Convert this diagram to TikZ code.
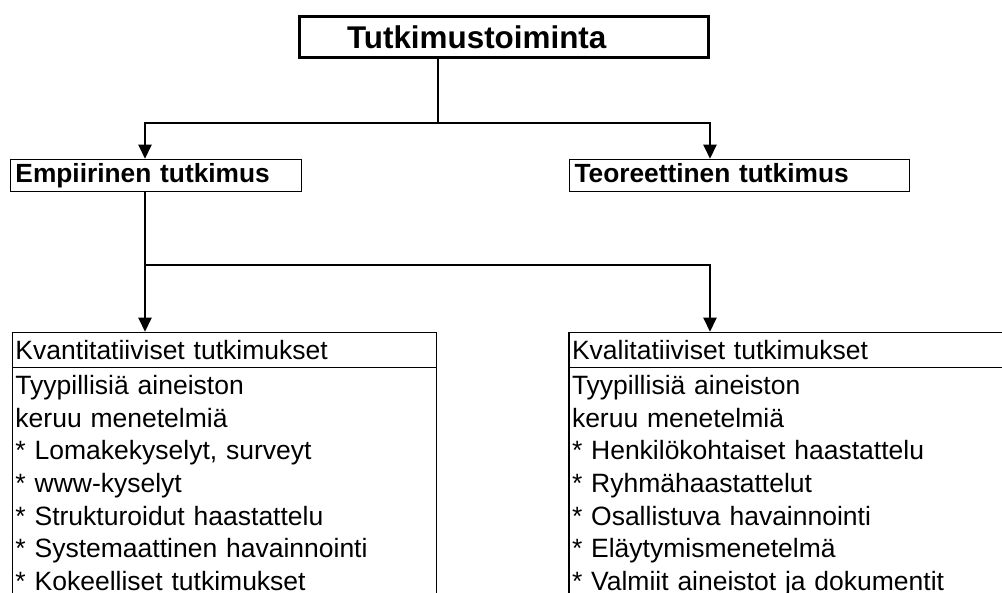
\documentclass[tikz,border=0pt]{standalone}
\usepackage{fontspec}
\setmainfont{Liberation Sans}
\usetikzlibrary{positioning, arrows.meta, shapes.multipart}

\begin{document}
\begin{tikzpicture}[x=1pt, y=-1pt, line width=2pt,
    >={Triangle[width=13pt,length=14pt]},
    otsikko/.style={draw, line width=1.5pt, align=left, inner xsep=5pt, inner ysep=0pt,
      minimum height=32pt, text height=19pt, text depth=5.5pt,
      font=\bfseries\fontsize{26.3}{32}\selectfont},
    lista/.style={draw, line width=1.5pt, rectangle split, rectangle split parts=2,
      anchor=north west, align=left, inner xsep=3pt, inner ysep=7pt,
      font=\fontsize{26.5}{32.7}\selectfont}]
    \fill [white] (0,0) rectangle (1002,593);
    \useasboundingbox (0,0) rectangle (1002,593);
    \clip (0,0) rectangle (1002,593);

    \node [draw, line width=3pt, align=left, inner xsep=47.5pt, inner ysep=0pt,
      text width=314pt, minimum height=41pt,
      font=\bfseries\fontsize{31.4}{36}\selectfont] (toiminta) at (504,37) {Tutkimustoiminta};
    \node [otsikko, text width=281pt] (empiirinen) at (156,175.5) {Empiirinen tutkimus};
    \node [otsikko, text width=330pt, right=266.5pt of empiirinen] (teoreettinen) {Teoreettinen tutkimus};

    \node [lista, text width=418pt] (kvantit) at (11.75,331.75) {Kvantitatiiviset tutkimukset
      \nodepart{two} Tyypillisiä aineiston\\
      keruu menetelmiä\\
      {*} Lomakekyselyt, surveyt\\
      {*} www-kyselyt\\
      {*} Strukturoidut haastattelu\\
      {*} Systemaattinen havainnointi\\
      {*} Kokeelliset tutkimukset};
    \node [lista, text width=500pt] (kvalit) at (568.25,331.75) {Kvalitatiiviset tutkimukset
      \nodepart{two} Tyypillisiä aineiston\\
      keruu menetelmiä\\
      {*} Henkilökohtaiset haastattelu\\
      {*} Ryhmähaastattelut\\
      {*} Osallistuva havainnointi\\
      {*} Eläytymismenetelmä\\
      {*} Valmiit aineistot ja dokumentit};

    % haarat
    \coordinate (haara1) at (438,123);
    \coordinate (haara1v) at (145,123);
    \coordinate (haara1o) at (710,123);
    \coordinate (haara2v) at (145,265);
    \coordinate (haara2o) at (710,265);

    \draw (toiminta.south -| haara1) -- (haara1);
    \draw [<->] (empiirinen.north -| haara1v) -- (haara1v) -- (haara1o) -- (teoreettinen.north -| haara1o);
    \draw [->] (empiirinen.south -| haara2v) -- (kvantit.north -| haara2v);
    \draw [->] (haara2v) -- (haara2o) -- (kvalit.north -| haara2o);
\end{tikzpicture}
\end{document}
